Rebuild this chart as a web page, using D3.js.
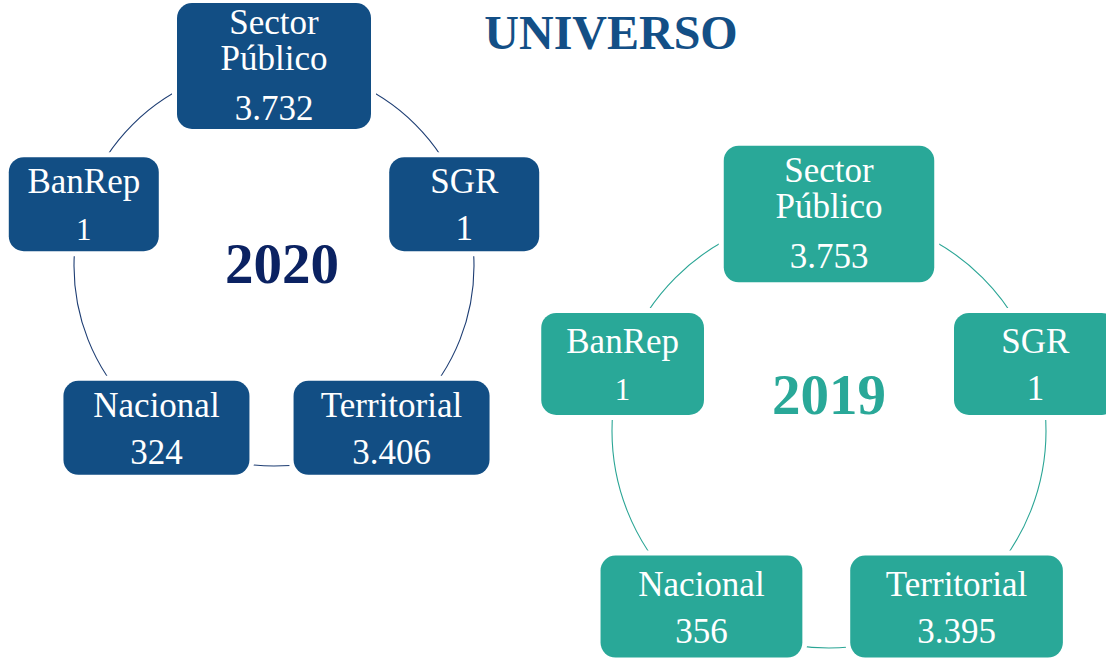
<!DOCTYPE html>
<html>
<head>
<meta charset="utf-8">
<script src="https://cdn.jsdelivr.net/npm/d3@7"></script>
<style>
  body { margin: 0; background: #fff; overflow: hidden; }
  svg { display: block; }
  text { font-family: "Liberation Serif", "Times New Roman", Times, serif; }
</style>
</head>
<body>
<div id="chart"></div>
<script>
// nodes of the cycle, clockwise from the top
const nodeNames = ["Sector Público", "SGR", "Territorial", "Nacional", "BanRep"];
const values2020 = [3732, 1, 3406, 324, 1];
const values2019 = [3753, 1, 3395, 356, 1];
const years = ["2020", "2019"];
const title = "UNIVERSO";

const w = 1106, h = 659;

// spanish number format: 3.732
const esLocale = d3.formatLocale({decimal: ",", thousands: ".", grouping: [3], currency: ["$", ""]});
const fmt = esLocale.format(",d");

// box size of each node (left cycle, the right one is scaled up)
const boxW = {"Sector Público": 194, "SGR": 150, "Territorial": 196, "Nacional": 186, "BanRep": 150};
const boxH = {"Sector Público": 126, "SGR": 94, "Territorial": 94, "Nacional": 94, "BanRep": 94};

const cycles = [
    {year: years[0], values: values2020, cx: 274, cy: 266, r: 200, k: 1, dx: 8,
     fill: "#124e84", line: "#1d3d73", yearColor: "#0b2262", yearY: 283},
    {year: years[1], values: values2019, cx: 829, cy: 431, r: 217, k: 1.085, dx: 0,
     fill: "#29a898", line: "#2aa595", yearColor: "#29a898", yearY: 414}
];

const svg = d3.select("#chart")
    .append("svg")
    .attr("width", w)
    .attr("height", h);

svg.append("text")
    .attr("x", 611)
    .attr("y", 49)
    .attr("text-anchor", "middle")
    .style("font-weight", "bold")
    .style("font-size", "48px")
    .style("fill", "#134f86")
    .text(title);

const angle = d3.scaleLinear().domain([0, nodeNames.length]).range([0, 2 * Math.PI]);

cycles.forEach(function(c) {
    let g = svg.append("g");

    // the ring behind the boxes
    g.append("circle")
        .attr("cx", c.cx)
        .attr("cy", c.cy)
        .attr("r", c.r)
        .style("fill", "none")
        .style("stroke", c.line)
        .style("stroke-width", 1.1);

    g.append("text")
        .attr("x", c.cx + c.dx)
        .attr("y", c.yearY)
        .attr("text-anchor", "middle")
        .style("font-weight", "bold")
        .style("font-size", "57px")
        .style("fill", c.yearColor)
        .text(c.year);

    let node = g.selectAll("g.node")
        .data(nodeNames.map(function(d, i) { return {name: d, value: c.values[i], i: i}; }))
        .enter().append("g")
        .attr("class", "node")
        .attr("transform", function(d) {
            let a = angle(d.i);
            let x = c.cx + c.r * Math.sin(a);
            let y = c.cy - c.r * Math.cos(a);
            return "translate(" + x + "," + y + ")";
        });

    node.append("rect")
        .attr("x", function(d) { return -boxW[d.name] * c.k / 2; })
        .attr("y", function(d) { return -boxH[d.name] * c.k / 2; })
        .attr("width", function(d) { return boxW[d.name] * c.k; })
        .attr("height", function(d) { return boxH[d.name] * c.k; })
        .attr("rx", 15)
        .attr("ry", 15)
        .style("fill", c.fill)
        .style("stroke", "#fff")
        .style("stroke-width", 10)
        .style("paint-order", "stroke");

    node.each(function(d) {
        let el = d3.select(this);
        let lines = d.name == "Sector Público" ? ["Sector", "Público"] : [d.name];
        let tops = lines.length == 2 ? [-32, 4] : [-11];
        let valY = lines.length == 2 ? 54 : 36;
        lines.forEach(function(t, j) {
            el.append("text")
                .attr("x", 0)
                .attr("y", tops[j])
                .attr("text-anchor", "middle")
                .style("font-size", "35px")
                .style("fill", "#fff")
                .text(t);
        });
        el.append("text")
            .attr("x", 0)
            .attr("y", valY)
            .attr("text-anchor", "middle")
            .style("font-size", d.name == "BanRep" ? "31px" : "35px")
            .style("fill", "#fff")
            .text(fmt(d.value));
    });
});
</script>
</body>
</html>
